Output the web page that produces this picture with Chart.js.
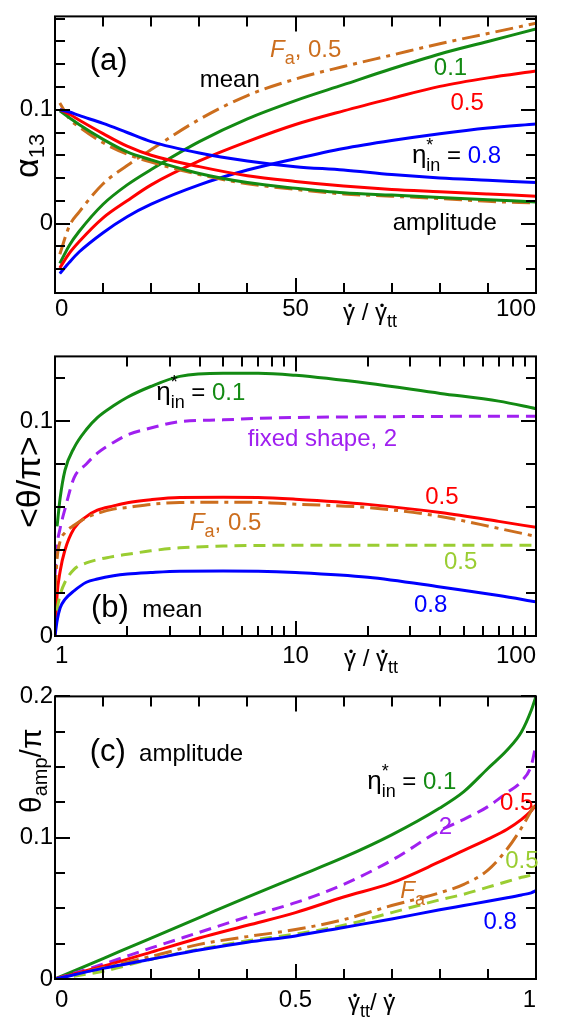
<!DOCTYPE html>
<html>
<head>
<meta charset="utf-8">
<script src="https://cdn.jsdelivr.net/npm/chart.js@4.4.1/dist/chart.umd.min.js"></script>
<style>
  body { margin: 0; background: #fff; }
  canvas { position: absolute; left: 0; }
</style>
</head>
<body>
<canvas id="panelA" width="564" height="340" style="top:0"></canvas>
<canvas id="panelB" width="564" height="340" style="top:340px"></canvas>
<canvas id="panelC" width="564" height="348" style="top:680px"></canvas>
<script>
const FONT = '"Liberation Sans", Arial, sans-serif';
const GREEN = '#138a13', RED = '#ff0000', BLUE = '#0000ff';
const BROWN = '#cc6e1e', PURPLE = '#a020f0', YGREEN = '#9acd32';

// ---- panel (a): alpha_13 vs shear rate ----
const aX       = [1, 3, 5, 10, 15, 20, 30, 40, 50, 60, 70, 80, 90, 100];
const aMeanFa  = [-0.027, -0.002, 0.010, 0.035, 0.051, 0.065, 0.0915, 0.1125, 0.127, 0.138, 0.148, 0.158, 0.167, 0.176];
const aMean01  = [-0.035, -0.019, -0.007, 0.017, 0.034, 0.0475, 0.072, 0.092, 0.108, 0.122, 0.136, 0.149, 0.160, 0.171];
const aMean05  = [-0.039, -0.026, -0.016, 0.005, 0.020, 0.034, 0.055, 0.072, 0.087, 0.099, 0.110, 0.1205, 0.128, 0.134];
const aMean08  = [-0.044, -0.034, -0.025, -0.008, 0.006, 0.017, 0.034, 0.047, 0.057, 0.066, 0.073, 0.079, 0.084, 0.0875];
const aAmpFa   = [0.106, 0.092, 0.085, 0.071, 0.061, 0.054, 0.043, 0.035, 0.030, 0.026, 0.024, 0.022, 0.0195, 0.018];
const aAmp01   = [0.099, 0.093, 0.087, 0.074, 0.063, 0.056, 0.044, 0.036, 0.031, 0.027, 0.025, 0.023, 0.021, 0.019];
const aAmp05   = [0.100, 0.096, 0.091, 0.079, 0.068, 0.060, 0.050, 0.042, 0.037, 0.033, 0.030, 0.028, 0.026, 0.024];
const aAmp08   = [0.100, 0.098, 0.095, 0.088, 0.080, 0.072, 0.062, 0.055, 0.050, 0.047, 0.043, 0.040, 0.038, 0.036];
const aXLabels = { 0: '0', 50: '50', 100: '100' };
const aYLabels = { 0: '0', 0.1: '0.1' };
const aXMajor = [0, 50, 100], aXMinor = [10, 20, 30, 40, 60, 70, 80, 90];
const aYMajor = [0, 0.1], aYMinor = [-0.04, -0.02, 0.02, 0.04, 0.06, 0.08, 0.12, 0.14, 0.16, 0.18];

// ---- panel (b): mean angle, log x ----
const bX      = [1, 1.02, 1.05, 1.1, 1.2, 1.35, 1.5, 1.75, 2, 2.5, 3.3, 5, 7, 10, 20, 40, 70, 100];
const bMean01 = [null, 0.051, 0.064, 0.077, 0.0875, 0.096, 0.1015, 0.107, 0.111, 0.116, 0.1207, 0.1222, 0.1222, 0.1212, 0.1175, 0.1128, 0.1092, 0.1057];
const bFixed2 = [0.028, 0.042, 0.050, 0.059, 0.0735, 0.080, 0.085, 0.090, 0.0935, 0.0967, 0.0997, 0.1005, 0.1012, 0.1016, 0.1019, 0.1021, 0.1022, 0.1022];
const bMean05 = [0, 0.019, 0.030, 0.040, 0.050, 0.0555, 0.0585, 0.0605, 0.062, 0.0634, 0.0644, 0.0645, 0.0644, 0.0636, 0.0612, 0.0574, 0.0533, 0.0505];
const bFa05   = [0.020, 0.036, 0.044, 0.048, 0.0515, 0.055, 0.057, 0.059, 0.0598, 0.0612, 0.0621, 0.0622, 0.0621, 0.0613, 0.0597, 0.0556, 0.0500, 0.0463];
const bFixed05 = [0.003, 0.012, 0.019, 0.025, 0.031, 0.034, 0.0355, 0.037, 0.038, 0.0396, 0.041, 0.0418, 0.0421, 0.0422, 0.0422, 0.0422, 0.0422, 0.0422];
const bMean08 = [0, 0.007, 0.013, 0.017, 0.021, 0.025, 0.0265, 0.028, 0.0288, 0.0295, 0.0301, 0.0302, 0.0301, 0.0295, 0.0273, 0.0228, 0.0188, 0.0159];
const bXLabels = { 1: '1', 10: '10', 100: '100' };
const bYLabels = { 0: '0', 0.1: '0.1' };
const bXMajor = [1, 10, 100], bXMinor = [2, 3, 4, 5, 6, 7, 8, 9, 20, 30, 40, 50, 60, 70, 80, 90];
const bYMajor = [0, 0.1], bYMinor = [0.02, 0.04, 0.06, 0.08, 0.12];

// ---- panel (c): amplitude vs inverse shear rate ----
const cX       = [0, 0.1, 0.2, 0.3, 0.4, 0.5, 0.6, 0.7, 0.8, 0.85, 0.9, 0.94, 0.97, 0.99, 1.0];
const cAmp01   = [0, 0.0145, 0.029, 0.0435, 0.058, 0.072, 0.086, 0.102, 0.121, 0.1326, 0.149, 0.162, 0.175, 0.190, 0.200];
const cFixed2  = [0, 0.0105, 0.022, 0.033, 0.044, 0.054, 0.067, 0.084, 0.105, 0.113, 0.122, 0.132, 0.140, 0.151, 0.166];
const cAmp05   = [0, 0.009, 0.019, 0.029, 0.038, 0.047, 0.058, 0.068, 0.083, 0.091, 0.099, 0.106, 0.113, 0.119, 0.123];
const cFa05    = [0, 0.008, 0.016, 0.0245, 0.030, 0.035, 0.042, 0.052, 0.061, 0.067, 0.077, 0.092, 0.107, 0.119, 0.125];
const cFixed05 = [0, 0.0055, 0.014, 0.021, 0.027, 0.0318, 0.038, 0.047, 0.056, 0.060, 0.065, 0.069, 0.072, 0.0735, 0.075];
const cAmp08   = [0, 0.0075, 0.014, 0.0205, 0.026, 0.0305, 0.0365, 0.0425, 0.049, 0.052, 0.055, 0.0575, 0.0595, 0.061, 0.0625];
const cXLabels = { 0: '0', 0.5: '0.5', 1: '1' };
const cYLabels = { 0: '0', 0.1: '0.1', 0.2: '0.2' };
const cXMajor = [0, 0.5, 1], cXMinor = [0.1, 0.2, 0.3, 0.4, 0.6, 0.7, 0.8, 0.9];
const cYMajor = [0, 0.1, 0.2], cYMinor = [0.025, 0.05, 0.075, 0.125, 0.15, 0.175];

const SOLID = [], DASH = [12, 7], DASHDOT = [18, 6, 4, 6];

function series(xs, ys, color, dash) {
  return {
    data: xs.map((x, i) => ({ x: x, y: ys[i] })),
    borderColor: color,
    borderWidth: 3,
    borderDash: dash,
    pointRadius: 0,
    cubicInterpolationMode: 'monotone',
    fill: false
  };
}

function labeler(map) {
  return function (v) {
    for (const k in map) if (Math.abs(v - Number(k)) < 1e-9) return map[k];
    return '';
  };
}

// rich text: list of runs {t, s(size), c(color), it, dy, keep(no advance), dot}
function drawRuns(ctx, x, y, runs, rot) {
  ctx.save();
  ctx.translate(x, y);
  if (rot) ctx.rotate(rot);
  ctx.textBaseline = 'alphabetic';
  ctx.textAlign = 'left';
  let cx = 0;
  for (const r of runs) {
    ctx.font = (r.it ? 'italic ' : '') + r.s + 'px ' + FONT;
    ctx.fillStyle = r.c || '#000';
    const dy = r.dy || 0;
    ctx.fillText(r.t, cx, dy);
    const w = ctx.measureText(r.t).width;
    if (r.dot) {
      // dot above gamma (time derivative)
      ctx.font = '13px ' + FONT;
      ctx.textAlign = 'center';
      ctx.fillText('\u2022', cx + w / 2 + 1, dy - 10);
      ctx.textAlign = 'left';
    }
    if (!r.keep) cx += w;
  }
  ctx.restore();
}

function eta(val, color) {
  return [{ t: '\u03B7', s: 26 }, { t: '*', s: 18, dy: -12, keep: true }, { t: 'in', s: 18, dy: 8 },
          { t: ' = ', s: 24 }, { t: val, s: 24, c: color }];
}
function fa(tail, color) {
  return [{ t: 'F', s: 24, it: true, c: color }, { t: 'a', s: 18, dy: 7, c: color }, { t: tail, s: 24, c: color }];
}

function makePanel(id, cfg) {
  const framePlugin = {
    id: 'frame',
    afterDatasetsDraw(chart) {
      const { ctx, chartArea: a, scales: { x, y } } = chart;
      ctx.save();
      ctx.strokeStyle = '#000';
      ctx.lineWidth = 2;
      ctx.strokeRect(a.left, a.top, a.right - a.left, a.bottom - a.top);
      ctx.beginPath();
      const xt = (vals, len) => vals.forEach(v => {
        const p = Math.round(x.getPixelForValue(v));
        ctx.moveTo(p, a.bottom); ctx.lineTo(p, a.bottom - len);
        ctx.moveTo(p, a.top); ctx.lineTo(p, a.top + len);
      });
      const yt = (vals, len) => vals.forEach(v => {
        const p = Math.round(y.getPixelForValue(v));
        ctx.moveTo(a.left, p); ctx.lineTo(a.left + len, p);
        ctx.moveTo(a.right, p); ctx.lineTo(a.right - len, p);
      });
      xt(cfg.xMajor, 15); xt(cfg.xMinor, 10);
      yt(cfg.yMajor, 15); yt(cfg.yMinor, 10);
      ctx.stroke();
      ctx.restore();
    },
    afterDraw(chart) {
      const { ctx, scales: { x, y } } = chart;
      cfg.notes.forEach(n => {
        drawRuns(ctx, x.getPixelForValue(n.x), y.getPixelForValue(n.y), n.runs, 0);
      });
      cfg.titles.forEach(n => drawRuns(ctx, n.px, n.py, n.runs, n.rot || 0));
    }
  };

  return new Chart(document.getElementById(id), {
    type: 'line',
    data: { datasets: cfg.datasets },
    plugins: [framePlugin],
    options: {
      responsive: false,
      animation: false,
      layout: { padding: { top: cfg.padTop, right: 28, left: 0, bottom: 0 } },
      plugins: { legend: { display: false }, tooltip: { enabled: false } },
      scales: {
        x: {
          type: cfg.xType,
          min: cfg.xMin, max: cfg.xMax,
          grid: { display: false, drawTicks: false },
          border: { display: false },
          afterFit: s => { s.height = cfg.xHeight; },
          ticks: {
            stepSize: cfg.xStep, autoSkip: false, maxRotation: 0, includeBounds: false,
            align: 'inner', padding: cfg.xPad, color: '#000',
            font: { family: FONT, size: 24 },
            callback: labeler(cfg.xLabels)
          }
        },
        y: {
          type: 'linear',
          min: cfg.yMin, max: cfg.yMax,
          grid: { display: false, drawTicks: false },
          border: { display: false },
          afterFit: s => { s.width = 55; },
          ticks: {
            stepSize: cfg.yStep, autoSkip: false, includeBounds: false,
            padding: 2, color: '#000',
            font: { family: FONT, size: 24 },
            callback: labeler(cfg.yLabels)
          }
        }
      }
    }
  });
}

makePanel('panelA', {
  xType: 'linear', xMin: 0, xMax: 100, xStep: 10, yMin: -0.061, yMax: 0.182, yStep: 0.02,
  padTop: 4, xHeight: 47, xPad: 2,
  xLabels: aXLabels, yLabels: aYLabels,
  xMajor: aXMajor, xMinor: aXMinor, yMajor: aYMajor, yMinor: aYMinor,
  datasets: [
    series(aX, aAmp08, BLUE, SOLID), series(aX, aAmp05, RED, SOLID),
    series(aX, aAmp01, GREEN, SOLID), series(aX, aAmpFa, BROWN, DASHDOT),
    series(aX, aMean08, BLUE, SOLID), series(aX, aMean05, RED, SOLID),
    series(aX, aMean01, GREEN, SOLID), series(aX, aMeanFa, BROWN, DASHDOT)
  ],
  notes: [
    { x: 7.2, y: 0.135, runs: [{ t: '(a)', s: 31 }] },
    { x: 44.7, y: 0.146, runs: fa(', 0.5', BROWN) },
    { x: 30.1, y: 0.1197, runs: [{ t: 'mean', s: 24 }] },
    { x: 78.75, y: 0.1307, runs: [{ t: '0.1', s: 24, c: GREEN }] },
    { x: 82.2, y: 0.0998, runs: [{ t: '0.5', s: 24, c: RED }] },
    { x: 74.2, y: 0.0534, runs: eta('0.8', BLUE) },
    { x: 70.2, y: -0.0057, runs: [{ t: 'amplitude', s: 24 }] }
  ],
  titles: [
    { px: 38, py: 178, rot: -Math.PI / 2, runs: [{ t: '\u03B1', s: 34 }, { t: '13', s: 22, dy: 6 }] },
    { px: 343, py: 320, runs: [{ t: '\u03B3', s: 24, dot: true }, { t: ' / ', s: 24 }, { t: '\u03B3', s: 24, dot: true }, { t: 'tt', s: 18, dy: 7 }] }
  ]
});

makePanel('panelB', {
  xType: 'logarithmic', xMin: 1, xMax: 100, xStep: undefined, yMin: 0, yMax: 0.13, yStep: 0.02,
  padTop: 7, xHeight: 44, xPad: 6,
  xLabels: bXLabels, yLabels: bYLabels,
  xMajor: bXMajor, xMinor: bXMinor, yMajor: bYMajor, yMinor: bYMinor,
  datasets: [
    series(bX, bMean08, BLUE, SOLID), series(bX, bFixed05, YGREEN, DASH),
    series(bX, bFa05, BROWN, DASHDOT), series(bX, bMean05, RED, SOLID),
    series(bX, bFixed2, PURPLE, DASH), series(bX, bMean01, GREEN, SOLID)
  ],
  notes: [
    { x: 2.635, y: 0.1095, runs: eta('0.1', GREEN) },
    { x: 6.33, y: 0.0884, runs: [{ t: 'fixed shape, 2', s: 24, c: PURPLE }] },
    { x: 34.6, y: 0.0613, runs: [{ t: '0.5', s: 24, c: RED }] },
    { x: 3.64, y: 0.0493, runs: fa(', 0.5', BROWN) },
    { x: 41.4, y: 0.0313, runs: [{ t: '0.5', s: 24, c: YGREEN }] },
    { x: 31.1, y: 0.011, runs: [{ t: '0.8', s: 24, c: BLUE }] },
    { x: 1.412, y: 0.00875, runs: [{ t: '(b)', s: 31 }, { t: '  mean', s: 24 }] }
  ],
  titles: [
    { px: 40, py: 188, rot: -Math.PI / 2, runs: [{ t: '<\u03B8/\u03C0>', s: 34 }] },
    { px: 344, py: 326, runs: [{ t: '\u03B3', s: 24, dot: true }, { t: ' / ', s: 24 }, { t: '\u03B3', s: 24, dot: true }, { t: 'tt', s: 18, dy: 7 }] }
  ]
});

makePanel('panelC', {
  xType: 'linear', xMin: 0, xMax: 1, xStep: 0.1, yMin: 0, yMax: 0.2, yStep: 0.025,
  padTop: 14, xHeight: 49, xPad: 7,
  xLabels: cXLabels, yLabels: cYLabels,
  xMajor: cXMajor, xMinor: cXMinor, yMajor: cYMajor, yMinor: cYMinor,
  datasets: [
    series(cX, cAmp08, BLUE, SOLID), series(cX, cFixed05, YGREEN, DASH),
    series(cX, cFa05, BROWN, DASHDOT), series(cX, cAmp05, RED, SOLID),
    series(cX, cFixed2, PURPLE, DASH), series(cX, cAmp01, GREEN, SOLID)
  ],
  notes: [
    { x: 0.072, y: 0.154, runs: [{ t: '(c)', s: 31 }, { t: '  amplitude', s: 24 }] },
    { x: 0.649, y: 0.1345, runs: eta('0.1', GREEN) },
    { x: 0.798, y: 0.1029, runs: [{ t: '2', s: 24, c: PURPLE }] },
    { x: 0.925, y: 0.1193, runs: [{ t: '0.5', s: 24, c: RED }] },
    { x: 0.718, y: 0.0573, runs: [{ t: 'F', s: 24, it: true, c: BROWN }, { t: 'a', s: 18, dy: 7, c: BROWN }] },
    { x: 0.936, y: 0.0783, runs: [{ t: '0.5', s: 24, c: YGREEN }] },
    { x: 0.891, y: 0.0351, runs: [{ t: '0.8', s: 24, c: BLUE }] }
  ],
  titles: [
    { px: 41, py: 133, rot: -Math.PI / 2, runs: [{ t: '\u03B8', s: 30 }, { t: 'amp', s: 20, dy: 6 }, { t: '/\u03C0', s: 30 }] },
    { px: 348, py: 330, runs: [{ t: '\u03B3', s: 24, dot: true }, { t: 'tt', s: 18, dy: 7 }, { t: '/ ', s: 24 }, { t: '\u03B3', s: 24, dot: true }] }
  ]
});
</script>
</body>
</html>
